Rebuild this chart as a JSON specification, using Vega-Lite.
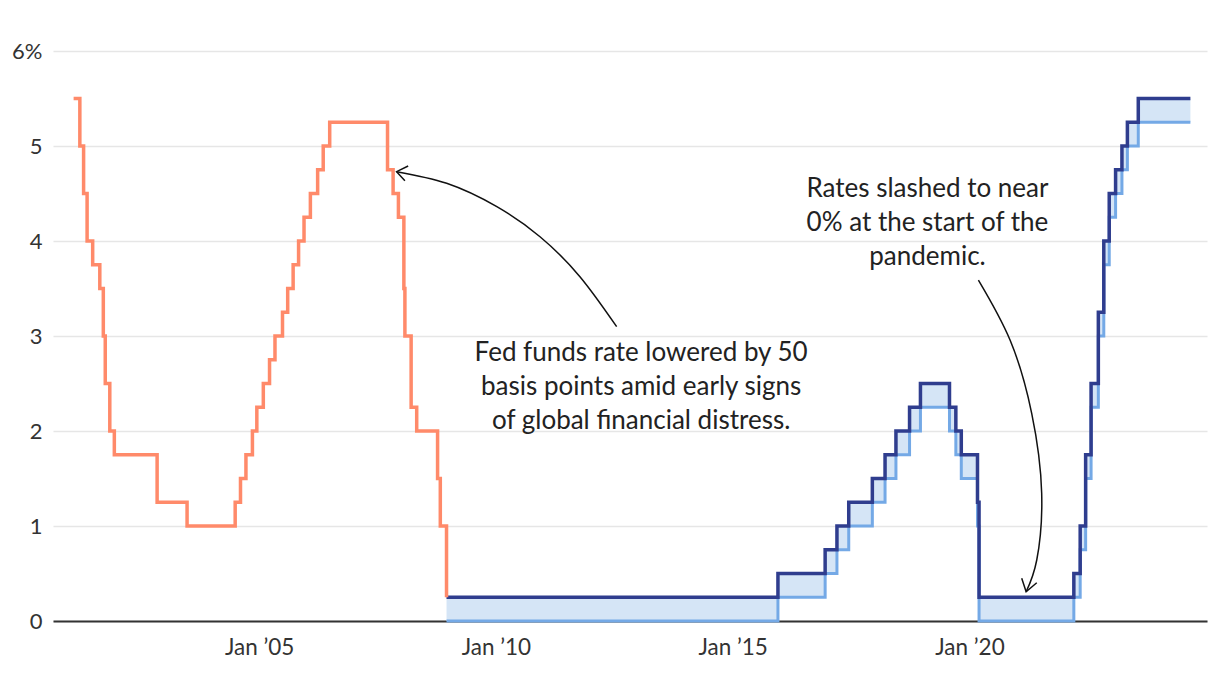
{
  "$schema": "https://vega.github.io/schema/vega-lite/v6.json",
  "width": 1154,
  "height": 570,
  "autosize": {"type": "none"},
  "padding": {"left": 53, "top": 51, "right": 13, "bottom": 53},
  "background": "white",
  "config": {
    "font": "Lato",
    "view": {"stroke": null}
  },
  "datasets": {
    "target": [
      {"date": "2001-01-31", "rate": 5.5},
      {"date": "2001-03-20", "rate": 5.0},
      {"date": "2001-04-18", "rate": 4.5},
      {"date": "2001-05-15", "rate": 4.0},
      {"date": "2001-06-27", "rate": 3.75},
      {"date": "2001-08-21", "rate": 3.5},
      {"date": "2001-09-17", "rate": 3.0},
      {"date": "2001-10-02", "rate": 2.5},
      {"date": "2001-11-06", "rate": 2.0},
      {"date": "2001-12-11", "rate": 1.75},
      {"date": "2002-11-06", "rate": 1.25},
      {"date": "2003-06-25", "rate": 1.0},
      {"date": "2004-06-30", "rate": 1.25},
      {"date": "2004-08-10", "rate": 1.5},
      {"date": "2004-09-21", "rate": 1.75},
      {"date": "2004-11-10", "rate": 2.0},
      {"date": "2004-12-14", "rate": 2.25},
      {"date": "2005-02-02", "rate": 2.5},
      {"date": "2005-03-22", "rate": 2.75},
      {"date": "2005-05-03", "rate": 3.0},
      {"date": "2005-06-30", "rate": 3.25},
      {"date": "2005-08-09", "rate": 3.5},
      {"date": "2005-09-20", "rate": 3.75},
      {"date": "2005-11-01", "rate": 4.0},
      {"date": "2005-12-13", "rate": 4.25},
      {"date": "2006-01-31", "rate": 4.5},
      {"date": "2006-03-28", "rate": 4.75},
      {"date": "2006-05-10", "rate": 5.0},
      {"date": "2006-06-29", "rate": 5.25},
      {"date": "2007-09-18", "rate": 4.75},
      {"date": "2007-10-31", "rate": 4.5},
      {"date": "2007-12-11", "rate": 4.25},
      {"date": "2008-01-22", "rate": 3.5},
      {"date": "2008-01-30", "rate": 3.0},
      {"date": "2008-03-18", "rate": 2.25},
      {"date": "2008-04-30", "rate": 2.0},
      {"date": "2008-10-08", "rate": 1.5},
      {"date": "2008-10-29", "rate": 1.0},
      {"date": "2008-12-16", "rate": 0.25}
    ],
    "range": [
      {"date": "2008-12-16", "lower": 0, "upper": 0.25},
      {"date": "2015-12-16", "lower": 0.25, "upper": 0.5},
      {"date": "2016-12-14", "lower": 0.5, "upper": 0.75},
      {"date": "2017-03-15", "lower": 0.75, "upper": 1.0},
      {"date": "2017-06-14", "lower": 1.0, "upper": 1.25},
      {"date": "2017-12-13", "lower": 1.25, "upper": 1.5},
      {"date": "2018-03-21", "lower": 1.5, "upper": 1.75},
      {"date": "2018-06-13", "lower": 1.75, "upper": 2.0},
      {"date": "2018-09-26", "lower": 2.0, "upper": 2.25},
      {"date": "2018-12-19", "lower": 2.25, "upper": 2.5},
      {"date": "2019-07-31", "lower": 2.0, "upper": 2.25},
      {"date": "2019-09-18", "lower": 1.75, "upper": 2.0},
      {"date": "2019-10-30", "lower": 1.5, "upper": 1.75},
      {"date": "2020-03-03", "lower": 1.0, "upper": 1.25},
      {"date": "2020-03-15", "lower": 0, "upper": 0.25},
      {"date": "2022-03-16", "lower": 0.25, "upper": 0.5},
      {"date": "2022-05-04", "lower": 0.75, "upper": 1.0},
      {"date": "2022-06-15", "lower": 1.5, "upper": 1.75},
      {"date": "2022-07-27", "lower": 2.25, "upper": 2.5},
      {"date": "2022-09-21", "lower": 3.0, "upper": 3.25},
      {"date": "2022-11-02", "lower": 3.75, "upper": 4.0},
      {"date": "2022-12-14", "lower": 4.25, "upper": 4.5},
      {"date": "2023-02-01", "lower": 4.5, "upper": 4.75},
      {"date": "2023-03-22", "lower": 4.75, "upper": 5.0},
      {"date": "2023-05-03", "lower": 5.0, "upper": 5.25},
      {"date": "2023-07-26", "lower": 5.25, "upper": 5.5},
      {"date": "2024-08-31", "lower": 5.25, "upper": 5.5}
    ],
    "curves": [
      {"id": "a1", "i": 0, "date": "2007-11-27", "v": 4.73},
      {"id": "a1", "i": 1, "date": "2008-12-17", "v": 4.607},
      {"id": "a1", "i": 2, "date": "2010-01-08", "v": 4.361},
      {"id": "a1", "i": 3, "date": "2010-12-07", "v": 4.045},
      {"id": "a1", "i": 4, "date": "2011-10-11", "v": 3.624},
      {"id": "a1", "i": 5, "date": "2012-07-20", "v": 3.098},
      {"id": "a2", "i": 0, "date": "2020-03-10", "v": 3.589},
      {"id": "a2", "i": 1, "date": "2020-11-09", "v": 2.958},
      {"id": "a2", "i": 2, "date": "2021-04-25", "v": 2.186},
      {"id": "a2", "i": 3, "date": "2021-07-11", "v": 1.344},
      {"id": "a2", "i": 4, "date": "2021-06-03", "v": 0.642},
      {"id": "a2", "i": 5, "date": "2021-03-13", "v": 0.308}
    ],
    "heads": [
      {"id": "h1", "i": 0, "date": "2008-02-24", "v": 4.789},
      {"id": "h1", "i": 1, "date": "2007-11-27", "v": 4.73},
      {"id": "h1", "i": 2, "date": "2008-01-30", "v": 4.635},
      {"id": "h2", "i": 0, "date": "2021-02-07", "v": 0.449},
      {"id": "h2", "i": 1, "date": "2021-03-13", "v": 0.308},
      {"id": "h2", "i": 2, "date": "2021-06-03", "v": 0.403}
    ],
    "notes": [
      {"date": "2013-01-25", "v": 2.821, "text": "Fed funds rate lowered by 50\nbasis points amid early signs\nof global financial distress."},
      {"date": "2019-02-11", "v": 4.547, "text": "Rates slashed to near\n0% at the start of the\npandemic."}
    ]
  },
  "encoding": {
    "x": {
      "field": "date",
      "type": "temporal",
      "title": null,
      "scale": {"domain": [{"year": 2000, "month": 8, "date": 25}, {"year": 2025, "month": 1, "date": 6}]},
      "axis": {
        "values": [{"year": 2005, "month": 1, "date": 1}, {"year": 2010, "month": 1, "date": 1}, {"year": 2015, "month": 1, "date": 1}, {"year": 2020, "month": 1, "date": 1}],
        "format": "%b ’%y",
        "labelFontSize": 22.5,
        "labelColor": "#333333",
        "labelPadding": 15,
        "grid": false,
        "ticks": false,
        "domainColor": "#333333",
        "domainWidth": 2
      }
    }
  },
  "layer": [
    {
      "data": {"name": "range"},
      "mark": {"type": "area", "interpolate": "step-after", "color": "#d5e5f6"},
      "encoding": {
        "y": {
          "field": "lower",
          "type": "quantitative",
          "title": null,
          "scale": {"domain": [0, 6], "nice": false, "zero": true},
          "axis": {
            "values": [0, 1, 2, 3, 4, 5, 6],
            "labelExpr": "datum.value == 6 ? '6%' : format(datum.value, 'd')",
            "labelFontSize": 22,
            "labelColor": "#333333",
            "labelPadding": 11,
            "grid": true,
            "gridColor": "#e6e6e6",
            "gridWidth": 1.5,
            "ticks": false,
            "domain": false
          }
        },
        "y2": {"field": "upper"}
      }
    },
    {
      "data": {"name": "range"},
      "mark": {"type": "line", "interpolate": "step-after", "color": "#74a9e6", "strokeWidth": 3},
      "encoding": {"y": {"field": "lower", "type": "quantitative"}}
    },
    {
      "data": {"name": "range"},
      "mark": {"type": "line", "interpolate": "step-after", "color": "#2f3d8e", "strokeWidth": 3.5},
      "encoding": {"y": {"field": "upper", "type": "quantitative"}}
    },
    {
      "data": {"name": "target"},
      "mark": {"type": "line", "interpolate": "step-after", "color": "#ff8a6a", "strokeWidth": 3.5},
      "encoding": {"y": {"field": "rate", "type": "quantitative"}}
    },
    {
      "data": {"name": "curves"},
      "mark": {"type": "line", "interpolate": "natural", "color": "#111111", "strokeWidth": 1.5},
      "encoding": {
        "y": {"field": "v", "type": "quantitative"},
        "detail": {"field": "id"},
        "order": {"field": "i", "type": "quantitative"}
      }
    },
    {
      "data": {"name": "heads"},
      "mark": {"type": "line", "interpolate": "linear", "color": "#111111", "strokeWidth": 1.5},
      "encoding": {
        "y": {"field": "v", "type": "quantitative"},
        "detail": {"field": "id"},
        "order": {"field": "i", "type": "quantitative"}
      }
    },
    {
      "data": {"name": "notes"},
      "mark": {"type": "text", "lineBreak": "\n", "align": "center", "baseline": "middle", "fontSize": 26, "lineHeight": 34, "color": "#222222"},
      "encoding": {
        "y": {"field": "v", "type": "quantitative"},
        "text": {"field": "text"}
      }
    }
  ]
}
